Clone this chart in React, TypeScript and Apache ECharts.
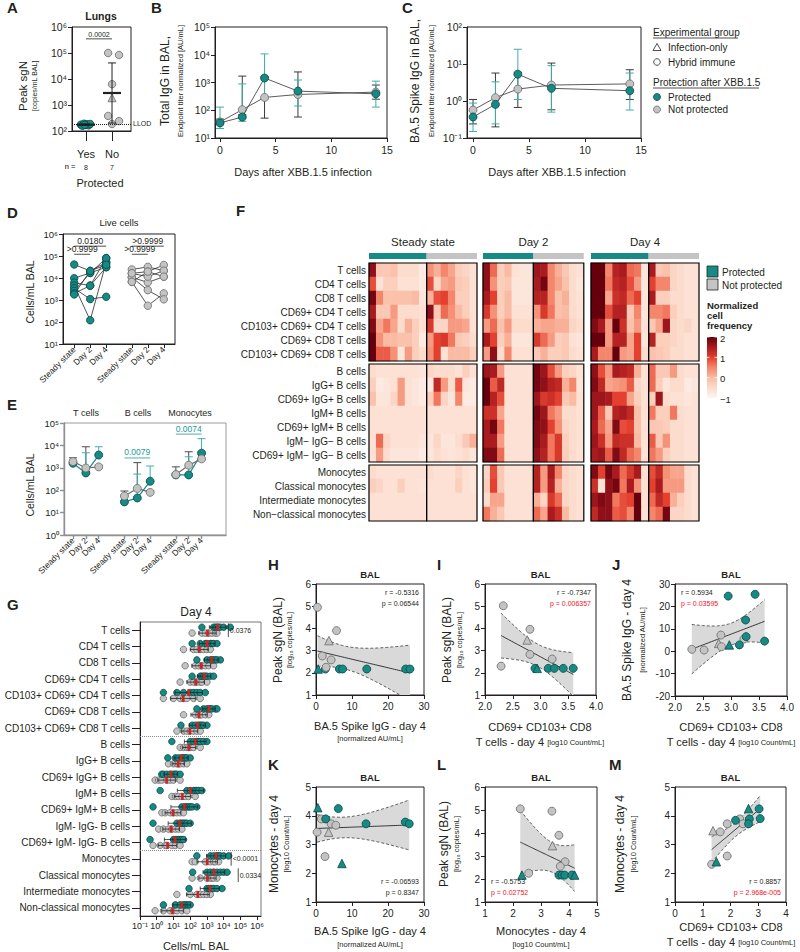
import React, { useEffect, useRef } from 'react';
import * as echarts from 'echarts';

// ---------- palette & typography ----------
const FONT = '"Liberation Sans", Arial, Helvetica, sans-serif';
const INK = '#231f20';
const TEAL = '#168a85';
const TEAL_EDGE = '#0b4744';
const TEAL_ERR = '#41aea8';
const TEAL_TEXT = '#1e9a94';
const GREY = '#c3c3c3';
const GREY_EDGE = '#6a6a6a';
const MEAN_RED = '#d42020';
const SIG_RED = '#f2121b';
const BAND = '#d9d9d9';
const HEAT = ['#fdf5f1', '#fcdccd', '#f9bba3', '#f4866b', '#e3402f', '#a91b1f', '#67000d'];

// ---------- A: peak sgN in lungs ----------
const aGroups = ['Yes', 'No'];
const aCounts = ['8', '7'];
const aProtected = [175, 160, 190, 170, 182, 165, 186, 172];
const aProtectedJitter = [0.8, 0.86, 0.92, 0.98, 1.04, 1.1, 1.16, 0.95];
const aNotProtected = [100000, 84000, 6300, 1900, 380, 240, 186];
const aNotProtectedJitter = [1.85, 2.27, 2.0, 2.0, 1.85, 2.27, 2.0];
const aNotProtectedShape = ['circle', 'circle', 'circle', 'triangle', 'circle', 'circle', 'circle'];
const aLLOD = 186;
const aPValue = '0.0002';

// ---------- B / C: BAL antibody kinetics ----------
const bcDays = [0, 2, 4, 7, 14];
const bProt = [35, 57, 1450, 490, 390];
const bProtLo = [22, 40, 250, 142, 130];
const bProtHi = [130, 890, 10700, 1230, 1120];
const bNot = [38, 105, 290, 370, 450];
const bNotLo = [30, 70, 52, 57, 250];
const bNotHi = [48, 1700, 1600, 2400, 810];
const cProt = [0.37, 0.81, 5.3, 2.2, 1.9];
const cProtLo = [0.15, 0.24, 1.1, 0.5, 0.57];
const cProtHi = [0.88, 3.3, 25, 9, 5.7];
const cNot = [0.57, 1.23, 2.1, 2.7, 2.9];
const cNotLo = [0.24, 0.2, 0.67, 0.58, 1.1];
const cNotHi = [1.1, 5.7, 6, 10.6, 7];

// ---------- D: live cells per animal (steady state, day 2, day 4) ----------
const dTimepoints = ['Steady state', 'Day 2', 'Day 4'];
const dProtected = [
  [41000, 21000, 52000],
  [9800, 17000, 80000],
  [6100, 4500, 31000],
  [4500, 120, 52000],
  [3400, 1100, 1400],
  [2600, 17000, 31000],
  [2000, 4500, 80000],
  [1800, 21000, 40000],
];
const dNotProtected = [
  [24500, 32000, 21500],
  [16300, 19500, 39000],
  [10700, 6300, 11500],
  [6700, 550, 2000],
  [10700, 2800, 1070],
  [16300, 11500, 21500],
  [6700, 19500, 11500],
];
const dPValues = ['0.0180', '>0.9999', '>0.9999', '>0.9999'];

// ---------- E: T / B / monocyte counts (mean + upper error) ----------
const eCellTypes = ['T cells', 'B cells', 'Monocytes'];
const eProt = [1600, 590, 3700, 30, 45, 250, 480, 480, 4500];
const eProtHi = [2000, 4700, 8700, 35, 525, 1200, 560, 3100, 20000];
const eNot = [1900, 980, 1100, 55, 120, 80, 500, 1300, 2500];
const eNotHi = [2800, 8700, 1300, 92, 1700, 95, 1100, 5200, 5000];
const ePValues = ['0.0079', '0.0074'];

// ---------- F: normalized cell frequency heatmap ----------
const hmRows = [
  'T cells', 'CD4 T cells', 'CD8 T cells', 'CD69+ CD4 T cells', 'CD103+ CD69+ CD4 T cells', 'CD69+ CD8 T cells', 'CD103+ CD69+ CD8 T cells',
  'B cells', 'IgG+ B cells', 'CD69+ IgG+ B cells', 'IgM+ B cells', 'CD69+ IgM+ B cells', 'IgM\u2212 IgG\u2212 B cells', 'CD69+ IgM\u2212 IgG\u2212 B cells',
  'Monocytes', 'Classical monocytes', 'Intermediate monocytes', 'Non\u2212classical monocytes',
];
const hmSteadyProt = [
  [1.7, -0.2, -0.2, -0.1, -0.5, -0.5, -0.5, -0.8],
  [0.9, -0.6, -0.3, -0.3, -0.6, -0.6, -0.6, -0.8],
  [1.9, 0.5, -0.1, -0.1, -0.1, -0.1, 0.0, -0.7],
  [1.5, -0.2, -0.2, 0.3, -0.5, -0.5, -0.5, -0.6],
  [1.8, 0.2, 0.6, 0.2, -0.5, 0.1, -0.3, -0.6],
  [2.0, 0.4, 0.0, 0.0, -0.1, -0.1, -0.3, -0.8],
  [2.0, 0.8, 0.8, 0.4, -0.7, 0.3, -0.3, -0.5],
  [-0.5, -0.6, -0.6, -0.6, -0.6, -0.6, -0.6, -0.7],
  [-0.3, -0.8, -0.7, -0.6, 0.3, -0.6, -0.7, -0.8],
  [-0.1, -0.7, -0.7, -0.4, 0.3, -0.6, -0.7, -0.8],
  [-0.6, -0.6, -0.6, -0.6, -0.6, -0.6, -0.6, -0.6],
  [-0.6, -0.6, -0.6, -0.6, -0.6, -0.6, -0.6, -0.6],
  [-0.6, 0.7, -0.4, -0.6, -0.6, -0.6, -0.6, -0.7],
  [-0.6, 0.3, -0.5, -0.7, -0.7, -0.7, -0.7, -0.8],
  [-0.5, -0.6, -0.6, -0.6, -0.6, -0.6, -0.6, -0.6],
  [-0.3, -0.4, -0.6, -0.6, -0.3, -0.6, -0.6, -0.7],
  [-0.6, -0.6, -0.6, -0.6, -0.6, -0.6, -0.6, -0.6],
  [-0.6, -0.6, -0.6, -0.6, -0.6, -0.6, -0.6, -0.6],
];
const hmSteadyNot = [
  [0.4, 0.1, 0.5, 0.2, -0.3, -0.4, -0.6],
  [0.9, -0.4, 0.2, 0.3, -0.2, -0.3, -0.6],
  [0.1, 0.9, 1.0, 0.5, -0.3, -0.3, -0.6],
  [1.7, -0.2, 0.7, 0.4, 0.0, -0.3, -0.6],
  [1.1, -0.4, -0.4, 0.3, 0.3, 0.2, -0.6],
  [0.3, 1.0, 1.1, 0.6, -0.2, -0.3, -0.5],
  [0.4, 1.0, -0.6, 0.0, 0.0, 0.0, -0.3],
  [-0.4, -0.5, -0.5, -0.5, -0.6, -0.3, -0.6],
  [-0.8, 1.3, 0.3, -0.5, 0.8, -0.7, -0.8],
  [-0.3, 0.6, -0.4, -0.7, 0.5, -0.8, -0.8],
  [-0.6, -0.6, -0.6, -0.6, -0.6, -0.6, -0.6],
  [-0.6, -0.6, -0.6, -0.6, -0.6, -0.6, -0.6],
  [-0.7, -0.4, -0.7, -0.7, -0.5, -0.2, 0.1],
  [-0.7, -0.5, -0.6, -0.7, -0.6, -0.5, -0.7],
  [-0.5, -0.6, -0.6, -0.6, -0.4, -0.6, -0.7],
  [-0.6, -0.6, -0.6, -0.6, -0.3, -0.6, -0.7],
  [-0.6, -0.6, -0.6, -0.6, -0.6, -0.6, -0.6],
  [-0.6, -0.6, -0.6, -0.6, -0.6, -0.6, -0.6],
];
const hmDay2Prot = [
  [1.7, 0.7, -0.3, 0.0, -0.6, -0.7, -0.7],
  [1.7, 0.4, -0.3, -0.2, -0.7, -0.7, -0.7],
  [1.5, 1.0, -0.3, 0.0, -0.7, -0.7, -0.7],
  [1.1, 0.4, -0.3, 0.0, -0.6, -0.6, -0.6],
  [0.3, 0.7, -0.1, 0.3, -0.5, -0.5, -0.5],
  [1.5, 1.0, -0.3, 0.1, -0.7, -0.7, -0.7],
  [0.3, 1.7, -0.5, 0.5, -0.6, -0.6, -0.6],
  [1.6, 1.5, 0.3, -0.6, -0.6, -0.6, -0.6],
  [2.0, 0.8, 1.3, -0.6, -0.6, -0.6, -0.6],
  [2.0, 1.4, 0.9, -0.6, -0.6, -0.6, -0.6],
  [1.2, 1.2, 0.2, -0.6, -0.6, -0.6, -0.6],
  [1.5, 1.9, 0.6, -0.6, -0.6, -0.6, -0.6],
  [1.5, 1.5, 0.3, -0.6, -0.6, -0.6, -0.6],
  [1.8, 1.8, 0.7, -0.6, -0.6, -0.6, -0.6],
  [-0.4, 0.9, -0.2, -0.6, -0.6, -0.6, -0.6],
  [-0.3, 1.0, -0.2, -0.6, -0.6, -0.6, -0.6],
  [-0.5, 0.2, 0.2, -0.6, -0.6, -0.6, -0.6],
  [0.6, 0.1, -0.2, -0.6, -0.6, -0.6, -0.6],
];
const hmDay2Not = [
  [1.6, 1.5, 0.5, 0.1, -0.2, -0.5, -0.6],
  [1.5, 1.9, 0.5, 0.2, -0.1, -0.5, -0.7],
  [1.4, 1.4, 0.5, -0.1, 0.1, -0.5, -0.6],
  [0.4, 1.1, 0.6, -0.1, 0.0, -0.5, -0.6],
  [0.1, 0.2, 0.2, 0.1, 0.1, -0.4, -0.5],
  [1.1, 0.7, 0.3, -0.3, -0.2, -0.6, -0.7],
  [-0.2, 0.1, -0.3, -0.3, -0.2, -0.5, -0.6],
  [1.9, 1.6, 0.9, 0.3, -0.3, -0.4, -0.6],
  [1.9, 1.7, 1.4, 1.3, 0.1, 0.5, -0.7],
  [1.6, 1.1, 1.2, 1.0, -0.2, 0.0, -0.6],
  [1.9, 1.6, 0.6, 0.3, -0.5, -0.5, -0.6],
  [1.8, 1.7, 1.0, 0.4, -0.4, -0.5, -0.6],
  [1.8, 1.5, 0.6, 1.1, -0.3, -0.5, -0.6],
  [1.7, 1.4, 0.6, 1.1, -0.3, -0.5, -0.6],
  [1.4, 0.3, 1.5, 0.5, -0.4, -0.5, -0.6],
  [1.4, 0.3, 1.4, 0.1, -0.4, -0.5, -0.6],
  [0.1, -0.4, 1.1, 0.7, -0.4, -0.5, -0.6],
  [0.7, 0.2, 1.5, 1.2, 0.0, -0.5, -0.6],
];
const hmDay4Prot = [
  [2.0, 2.0, 0.5, 1.4, 1.5, 0.7, 0.6, -0.7],
  [2.0, 2.0, 0.6, 1.3, 1.4, 0.9, 0.3, -0.7],
  [2.0, 2.0, 0.2, 1.2, 1.3, 0.7, 1.0, -0.7],
  [2.0, 2.0, 0.9, 1.4, 1.4, -0.2, 0.5, -0.7],
  [1.8, 1.5, 0.3, 2.0, 1.2, -0.1, 0.3, -0.6],
  [2.0, 2.0, 0.3, 1.4, 1.4, 0.2, 1.0, -0.7],
  [1.5, 0.5, 0.5, 2.0, 0.3, 0.2, 1.0, -0.5],
  [1.7, 0.9, 0.3, 1.5, 1.4, 1.3, 0.1, -0.6],
  [1.8, 1.3, 0.2, 0.3, 0.4, 0.8, -0.4, -0.6],
  [1.6, 1.6, 1.5, 1.0, 1.0, 0.2, -0.3, -0.6],
  [1.6, 0.8, -0.2, 1.4, 1.5, 1.3, -0.1, -0.6],
  [1.5, 0.7, 0.2, 1.8, 0.9, 1.0, -0.1, -0.6],
  [1.6, 1.2, 0.3, 1.3, 1.2, 1.2, 0.0, -0.6],
  [1.5, 1.6, 0.8, 1.8, 1.3, 0.7, 0.5, -0.6],
  [1.8, 1.0, 1.9, 1.5, 0.7, 1.1, 1.5, -0.6],
  [1.2, -0.6, 1.7, 1.9, 0.6, 1.5, 0.4, -0.6],
  [1.6, 1.8, 1.7, 0.6, 0.9, 1.0, 2.0, -0.6],
  [1.3, 1.7, 1.7, 0.8, 0.9, 0.5, 2.0, -0.6],
];
const hmDay4Not = [
  [1.5, -0.2, -0.1, -0.4, -0.5, -0.6, -0.6],
  [1.0, 0.5, 0.5, -0.4, -0.5, -0.6, -0.6],
  [1.5, -0.3, -0.3, -0.5, -0.5, -0.6, -0.6],
  [0.5, 0.5, 0.6, -0.3, -0.5, -0.6, -0.6],
  [-0.2, 0.2, 1.6, -0.4, -0.5, -0.4, -0.6],
  [1.4, -0.3, -0.3, -0.4, -0.5, -0.6, -0.6],
  [-0.1, -0.2, -0.3, -0.5, -0.5, -0.6, -0.6],
  [0.7, -0.2, -0.2, 0.3, -0.5, -0.6, -0.6],
  [0.7, -0.3, -0.7, -0.5, -0.5, -0.8, -0.7],
  [-0.3, 1.6, -0.5, -0.6, -0.6, -0.7, -0.6],
  [0.6, -0.3, -0.3, 0.6, -0.5, -0.6, -0.6],
  [-0.2, -0.2, -0.3, -0.5, -0.5, -0.6, -0.6],
  [0.8, -0.2, 0.4, -0.5, -0.5, -0.6, -0.6],
  [0.6, 0.3, -0.3, -0.5, -0.5, -0.6, -0.6],
  [0.9, 1.3, 0.4, 0.2, 0.2, -0.5, -0.6],
  [1.0, 1.5, 0.3, 0.3, 0.3, -0.5, -0.6],
  [0.7, 1.3, 1.0, 0.1, -0.3, -0.5, -0.6],
  [0.5, 0.7, 1.9, -0.4, -0.4, -0.5, -0.6],
];

// ---------- G: day 4 cell counts per population (cells/mL) ----------
const gRows = [
  'T cells', 'CD4 T cells', 'CD8 T cells', 'CD69+ CD4 T cells', 'CD103+ CD69+ CD4 T cells', 'CD69+ CD8 T cells', 'CD103+ CD69+ CD8 T cells',
  'B cells', 'IgG+ B cells', 'CD69+ IgG+ B cells', 'IgM+ B cells', 'CD69+ IgM+ B cells', 'IgM- IgG- B cells', 'CD69+ IgM- IgG- B cells',
  'Monocytes', 'Classical monocytes', 'Intermediate monocytes', 'Non-classical monocytes',
];
const gProt = [
  [500, 2500, 3200, 4000, 5000, 6300, 10000, 25000],
  [130, 400, 800, 1000, 1600, 2000, 2500, 4000],
  [250, 1000, 1600, 2000, 2500, 3200, 4000, 6300],
  [130, 400, 500, 630, 800, 1000, 1600, 2500],
  [2.5, 16, 40, 100, 160, 250, 400, 800],
  [250, 630, 1000, 1300, 1600, 2000, 3200, 4000],
  [28, 130, 200, 320, 400, 500, 630, 1000],
  [8, 100, 160, 250, 320, 400, 630, 1000],
  [4.6, 13, 20, 32, 40, 50, 63, 100],
  [2, 2.5, 4, 6.3, 10, 13, 16, 25],
  [1.6, 63, 100, 160, 200, 250, 320, 500],
  [0.6, 32, 50, 63, 80, 100, 130, 250],
  [0.6, 16, 25, 32, 40, 50, 63, 100],
  [0.4, 10, 13, 16, 20, 25, 32, 40],
  [250, 1600, 2500, 4000, 5000, 6300, 10000, 20000],
  [140, 1000, 1600, 2500, 4000, 6300, 10000, 16000],
  [85, 1000, 1300, 1600, 2000, 2500, 4000, 8000],
  [2.5, 13, 25, 40, 50, 63, 80, 100],
];
const gNot = [
  [130, 500, 800, 1300, 2000, 3200, 4000],
  [40, 160, 250, 400, 630, 1000, 1600],
  [50, 200, 320, 500, 800, 1300, 2500],
  [25, 100, 160, 250, 400, 500, 1000],
  [2.5, 10, 25, 40, 63, 160, 400],
  [40, 200, 320, 400, 500, 800, 1300],
  [16, 40, 63, 100, 160, 250, 400],
  [25, 40, 63, 80, 100, 160, 400],
  [5, 10, 16, 20, 25, 40, 63],
  [0.8, 1.3, 2, 4, 6.3, 10, 25],
  [8, 13, 20, 32, 50, 80, 200],
  [2, 3.2, 6.3, 10, 16, 25, 40],
  [1.3, 2.5, 5, 8, 13, 20, 32],
  [0.6, 1.6, 3.2, 4, 8, 13, 25],
  [130, 200, 800, 1600, 2500, 3200, 5000],
  [130, 400, 1000, 1600, 2000, 2500, 4000],
  [16, 100, 250, 400, 630, 1000, 1600],
  [0.8, 2.5, 6.3, 10, 16, 32, 63],
];
// [row, x position of bracket, label]
const gSignificance: [number, number, string][] = [
  [0, 19000, '0.0376'],
  [14, 28000, '<0.0001'],
  [15, 74000, '0.0334'],
];

// ---------- H–M: correlations in BAL ([x, y, protected, infection-only]) ----------
type Pt = [number, number, number, number];
const hPoints: Pt[] = [
  [2.6, 2.17, 1, 0], [0.6, 2.17, 1, 1], [6.5, 2.17, 1, 0], [7.4, 2.17, 1, 0], [14.1, 2.17, 1, 0], [24.9, 2.17, 1, 0], [26.1, 2.17, 1, 0],
  [0.4, 4.95, 0, 0], [5.7, 3.9, 0, 0], [3.6, 3.45, 0, 1], [1.75, 2.76, 0, 0], [4.2, 2.58, 0, 0], [2.8, 2.25, 0, 0],
];
const iPoints: Pt[] = [
  [2.33, 5.02, 0, 0], [2.29, 2.3, 0, 0], [2.81, 3.96, 0, 0], [2.76, 3.48, 0, 1], [2.81, 2.83, 0, 0], [3.21, 2.62, 0, 0],
  [2.9, 2.2, 1, 0], [2.94, 2.2, 1, 1], [3.14, 2.2, 1, 0], [3.25, 2.2, 1, 0], [3.41, 2.2, 1, 0], [3.59, 2.2, 1, 0],
];
const jPoints: Pt[] = [
  [2.3, 0.85, 0, 0], [2.52, 0.5, 0, 0], [2.82, 7.2, 0, 0], [2.78, 3.5, 0, 1], [2.83, 2.0, 0, 0], [3.23, 5.4, 0, 0],
  [2.95, 24.6, 1, 0], [2.97, 2.8, 1, 1], [3.15, 2.8, 1, 0], [3.26, 13.9, 1, 0], [3.27, 6.5, 1, 0], [3.43, 25.4, 1, 0], [3.6, 4.5, 1, 0],
];
const kPoints: Pt[] = [
  [0.3, 3.43, 0, 0], [1.5, 3.89, 0, 0], [4.2, 3.72, 0, 0], [5.5, 3.67, 0, 0], [3.5, 3.43, 0, 1], [2.5, 2.58, 0, 0],
  [0.5, 4.28, 1, 1], [2.7, 3.89, 1, 0], [6.2, 4.25, 1, 0], [7.2, 2.34, 1, 1], [13.9, 3.72, 1, 0], [24.8, 3.78, 1, 0], [25.9, 3.72, 1, 0],
];
const lPoints: Pt[] = [
  [2.26, 5.05, 0, 0], [3.39, 4.95, 0, 0], [3.64, 3.9, 0, 0], [3.41, 3.45, 0, 1], [3.86, 2.75, 0, 0], [3.69, 2.55, 0, 0], [2.56, 2.25, 0, 0],
  [2.32, 2.17, 1, 1], [3.64, 2.17, 1, 0], [3.75, 2.17, 1, 0], [3.85, 2.17, 1, 0], [4.1, 2.17, 1, 0], [4.2, 2.17, 1, 1],
];
const mPoints: Pt[] = [
  [1.32, 2.31, 0, 0], [1.88, 2.6, 0, 0], [1.37, 3.48, 0, 1], [1.63, 3.44, 0, 0], [1.88, 3.72, 0, 0], [2.33, 3.89, 0, 0], [2.45, 3.72, 0, 0],
  [1.49, 2.4, 1, 1], [2.18, 3.84, 1, 0], [2.68, 3.89, 1, 0], [2.65, 4.25, 1, 1], [3.03, 4.24, 1, 0], [3.07, 3.9, 1, 0], [2.65, 3.72, 1, 0],
];
const hStats = ['r = -0.5316', 'p = 0.06544'];
const iStats = ['r = -0.7347', 'p = 0.006357'];
const jStats = ['r = 0.5934', 'p = 0.03595'];
const kStats = ['r = -0.06593', 'p = 0.8347'];
const lStats = ['r = -0.5753', 'p = 0.02752'];
const mStats = ['r = 0.8857', 'p = 2.968e-005'];

// ---------- helpers ----------
const SUP: Record<string, string> = { '-': '\u207b', '0': '\u2070', '1': '\u00b9', '2': '\u00b2', '3': '\u00b3', '4': '\u2074', '5': '\u2075', '6': '\u2076', '7': '\u2077', '8': '\u2078', '9': '\u2079' };
const pow10 = (v: number) => '10' + String(Math.round(Math.log10(v))).replace(/./g, (c) => SUP[c] ?? c);
const decades = (min: number, max: number) => {
  const out: number[] = [];
  for (let e = Math.round(Math.log10(min)); e <= Math.round(Math.log10(max)) && 10 ** e <= max * 1.0001; e++) out.push(Number((10 ** e).toPrecision(6)));
  return out;
};
const mean = (a: number[]) => a.reduce((s, v) => s + v, 0) / a.length;
function geoSummary(vals: number[]): [number, number, number] {
  const logs = vals.map((v) => Math.log10(v));
  const m = mean(logs);
  const sd = Math.sqrt(logs.reduce((s, v) => s + (v - m) ** 2, 0) / (logs.length - 1));
  return [10 ** m, 10 ** (m - sd), 10 ** (m + sd)];
}
const T_CRIT: Record<number, number> = { 9: 2.262, 10: 2.228, 11: 2.201, 12: 2.179, 13: 2.16, 14: 2.145 };
function regression(pts: Pt[]) {
  const xs = pts.map((p) => p[0]);
  const ys = pts.map((p) => p[1]);
  const n = xs.length;
  const mx = mean(xs);
  const my = mean(ys);
  let sxx = 0;
  let sxy = 0;
  xs.forEach((x, i) => {
    sxx += (x - mx) ** 2;
    sxy += (x - mx) * (ys[i] - my);
  });
  const slope = sxy / sxx;
  const icpt = my - slope * mx;
  const sse = xs.reduce((s, x, i) => s + (ys[i] - icpt - slope * x) ** 2, 0);
  const se = Math.sqrt(sse / (n - 2));
  const t = T_CRIT[n - 2] ?? 2.2;
  const lo = Math.min(...xs);
  const hi = Math.max(...xs);
  const out: [number, number, number][] = [];
  for (let k = 0; k <= 48; k++) {
    const x = lo + ((hi - lo) * k) / 48;
    out.push([x, icpt + slope * x, t * se * Math.sqrt(1 / n + (x - mx) ** 2 / sxx)]);
  }
  return out;
}

const txtStyle = (s: string, size: number, color: string, align: string, va: string, weight = 'normal') => ({
  text: s, fill: color, fontSize: size, fontFamily: FONT, fontWeight: weight,
  align, verticalAlign: va, textAlign: align, textVerticalAlign: va,
});

function vErrorBars(color: string, cap: number, lowCap = true) {
  return (_p: any, api: any) => {
    const x = api.value(0);
    const a = api.coord([x, api.value(1)]);
    const b = api.coord([x, api.value(2)]);
    const style = { stroke: color, lineWidth: 1 };
    const kids: any[] = [
      { type: 'line', shape: { x1: a[0], y1: a[1], x2: b[0], y2: b[1] }, style },
      { type: 'line', shape: { x1: b[0] - cap, y1: b[1], x2: b[0] + cap, y2: b[1] }, style },
    ];
    if (lowCap) kids.push({ type: 'line', shape: { x1: a[0] - cap, y1: a[1], x2: a[0] + cap, y2: a[1] }, style });
    return { type: 'group', children: kids };
  };
}

function sigBars(labels: string[], color: string, size: number) {
  return (p: any, api: any) => {
    const a = api.coord([api.value(0), api.value(2)]);
    const b = api.coord([api.value(1), api.value(2)]);
    return {
      type: 'group',
      children: [
        { type: 'line', shape: { x1: a[0], y1: a[1], x2: b[0], y2: b[1] }, style: { stroke: color, lineWidth: 0.8 } },
        { type: 'text', x: (a[0] + b[0]) / 2, y: a[1] - 1, style: txtStyle(labels[p.dataIndex], size, color, 'center', 'bottom') },
      ],
    };
  };
}

function bandRenderer(fit: [number, number, number][]) {
  return (_p: any, api: any) => {
    const up = fit.map(([x, y, w]) => api.coord([x, y + w]));
    const dn = fit.map(([x, y, w]) => api.coord([x, y - w]));
    const mid = fit.map(([x, y]) => api.coord([x, y]));
    const dash = { stroke: '#3a3a3a', lineWidth: 0.8, lineDash: [3, 2], fill: 'none' };
    return {
      type: 'group',
      children: [
        { type: 'polygon', shape: { points: up.concat(dn.slice().reverse()) }, style: { fill: BAND, stroke: 'none' } },
        { type: 'polyline', shape: { points: up }, style: dash },
        { type: 'polyline', shape: { points: dn }, style: dash },
        { type: 'polyline', shape: { points: mid }, style: { stroke: '#222', lineWidth: 0.9, fill: 'none' } },
      ],
    };
  };
}

const dot = (prot: boolean) => ({ color: prot ? TEAL : GREY, borderColor: prot ? TEAL_EDGE : GREY_EDGE, borderWidth: 0.8, opacity: 1 });

function buildOption(): any {
  const grid: any[] = [];
  const xAxis: any[] = [];
  const yAxis: any[] = [];
  const series: any[] = [];
  const graphic: any[] = [];
  const heatSeries: number[] = [];

  const addGrid = (l: number, t: number, r: number, b: number, border: string | null = INK) => {
    grid.push({ left: l, top: t, width: r - l, height: b - t, show: !!border, borderColor: border || 'transparent', borderWidth: border ? 1 : 0, backgroundColor: 'transparent', containLabel: false });
    return grid.length - 1;
  };
  const addX = (o: any) => { xAxis.push(o); return xAxis.length - 1; };
  const addY = (o: any) => { yAxis.push(o); return yAxis.length - 1; };
  const text = (x: number, y: number, s: string, size: number, o: any = {}) => {
    graphic.push({ type: 'text', x, y, rotation: o.rot ?? 0, z: 50, silent: true, style: { ...txtStyle(s, size, o.color ?? INK, o.align ?? 'center', o.va ?? 'middle', o.weight ?? 'normal'), rich: o.rich } });
  };
  const axis = (gi: number, min: number, max: number, o: any) => ({
    gridIndex: gi,
    type: o.log ? 'log' : 'value',
    logBase: 10,
    min,
    max,
    inverse: !!o.inverse,
    axisLine: { show: true, onZero: false, lineStyle: { color: o.lineColor ?? INK, width: o.lw ?? 1 } },
    axisTick: { show: true, length: o.tickLen ?? 4, customValues: o.ticks, lineStyle: { color: o.lineColor ?? INK, width: o.lw ?? 1 } },
    axisLabel: {
      customValues: o.ticks, margin: o.margin ?? 5, rotate: o.rotate ?? 0,
      formatter: o.formatter ?? (o.log ? pow10 : undefined),
      fontFamily: FONT, fontSize: o.size ?? 10, color: INK, rich: o.rich,
    },
    splitLine: { show: false },
  });
  const yTitle = (x: number, y: number, main: string, mainSize: number, sub: string, subX: number, subSize: number) => {
    text(x, y, main, mainSize, { rot: Math.PI / 2 });
    text(subX, y, sub, subSize, { rot: Math.PI / 2 });
  };

  // ----- panel letters -----
  ([['A', 7, 7], ['B', 151, 7], ['C', 402, 7], ['D', 7, 212], ['E', 7, 404], ['F', 236, 210], ['G', 7, 604],
    ['H', 268, 564], ['I', 437, 564], ['J', 612, 564], ['K', 268, 764], ['L', 437, 764], ['M', 609, 764]] as [string, number, number][])
    .forEach(([s, x, y]) => text(x, y, s, 15, { weight: 'bold', align: 'left' }));

  // ================= A =================
  {
    const g = addGrid(72, 27, 131, 131);
    const xi = addX(axis(g, 0.46, 2.73, {
      ticks: [1, 2], size: 11, tickLen: 10, margin: 17,
      formatter: (v: number) => `${aGroups[Math.round(v) - 1]}\n{n|${aCounts[Math.round(v) - 1]}}`,
      rich: { n: { fontSize: 7, fontFamily: FONT, color: INK, padding: [5, 0, 0, 0] } },
    }));
    const yi = addY(axis(g, 100, 1e6, { log: true, ticks: decades(100, 1e6), size: 10.5 }));
    const stats = [[1, ...geoSummary(aProtected)], [2, ...geoSummary(aNotProtected)]];
    series.push({
      type: 'custom', xAxisIndex: xi, yAxisIndex: yi, silent: true, z: 4, data: stats, encode: { x: 0, y: [1, 2, 3] },
      renderItem: (_p: any, api: any) => {
        const x = api.value(0);
        const m = api.coord([x, api.value(1)]);
        const lo = api.coord([x, api.value(2)]);
        const hi = api.coord([x, api.value(3)]);
        const st = { stroke: INK, lineWidth: 1 };
        return {
          type: 'group', children: [
            { type: 'line', shape: { x1: m[0], y1: lo[1], x2: m[0], y2: hi[1] }, style: st },
            { type: 'line', shape: { x1: m[0] - 4, y1: lo[1], x2: m[0] + 4, y2: lo[1] }, style: st },
            { type: 'line', shape: { x1: m[0] - 4, y1: hi[1], x2: m[0] + 4, y2: hi[1] }, style: st },
            { type: 'line', shape: { x1: m[0] - 9, y1: m[1], x2: m[0] + 9, y2: m[1] }, style: { stroke: INK, lineWidth: 2.2 } },
          ],
        };
      },
    });
    series.push({
      type: 'scatter', xAxisIndex: xi, yAxisIndex: yi, silent: true, z: 3, symbolSize: 7.5,
      itemStyle: dot(true), data: aProtected.map((v, i) => [aProtectedJitter[i], v]),
      markLine: {
        silent: true, symbol: 'none', animation: false,
        lineStyle: { type: 'dotted', color: INK, width: 1 },
        label: { show: true, position: 'end', formatter: 'LLOD', fontSize: 7, fontFamily: FONT, color: INK, distance: 2 },
        data: [{ yAxis: aLLOD }],
      },
    });
    series.push({
      type: 'scatter', xAxisIndex: xi, yAxisIndex: yi, silent: true, z: 3, symbolSize: 7.5,
      itemStyle: dot(false),
      data: aNotProtected.map((v, i) => ({ value: [aNotProtectedJitter[i], v], symbol: aNotProtectedShape[i], symbolSize: aNotProtectedShape[i] === 'triangle' ? 8 : 7.5 })),
    });
    series.push({
      type: 'custom', xAxisIndex: xi, yAxisIndex: yi, silent: true, z: 5, data: [[1, 2, 3.5e5]], encode: { x: [0, 1], y: 2 },
      renderItem: sigBars([aPValue], INK, 7),
    });
    text(101, 16, 'Lungs', 10.5, { weight: 'bold' });
    yTitle(23, 86, 'Peak sgN', 11.5, '[copies/mL BAL]', 34, 7);
    text(70, 166, 'n =', 7.5, { color: '#000000' });
    text(100, 183, 'Protected', 11);
  }

  // ================= B & C =================
  const kinetics = (box: number[], xMin: number, yMin: number, yMax: number, prot: number[], protLo: number[], protHi: number[], not: number[], notLo: number[], notHi: number[]) => {
    const g = addGrid(box[0], box[1], box[2], box[3]);
    const xi = addX(axis(g, xMin, 15, { ticks: [0, 5, 10, 15], size: 10.5, margin: 6 }));
    const yi = addY(axis(g, yMin, yMax, { log: true, ticks: decades(yMin, yMax), size: 10.5 }));
    series.push({ type: 'custom', xAxisIndex: xi, yAxisIndex: yi, silent: true, z: 2, encode: { x: 0, y: [1, 2] }, data: bcDays.map((d, i) => [d, notLo[i], notHi[i]]), renderItem: vErrorBars('#3a3a3a', 4) });
    series.push({ type: 'custom', xAxisIndex: xi, yAxisIndex: yi, silent: true, z: 2, encode: { x: 0, y: [1, 2] }, data: bcDays.map((d, i) => [d, protLo[i], protHi[i]]), renderItem: vErrorBars(TEAL_ERR, 4) });
    series.push({ type: 'line', xAxisIndex: xi, yAxisIndex: yi, silent: true, z: 3, symbol: 'circle', symbolSize: 8, itemStyle: dot(false), lineStyle: { color: '#4a4a4a', width: 0.9 }, data: bcDays.map((d, i) => [d, not[i]]) });
    series.push({ type: 'line', xAxisIndex: xi, yAxisIndex: yi, silent: true, z: 4, symbol: 'circle', symbolSize: 8, itemStyle: dot(true), lineStyle: { color: '#4a4a4a', width: 0.9 }, data: bcDays.map((d, i) => [d, prot[i]]) });
  };
  kinetics([215, 27, 387, 138], -0.45, 10, 1e5, bProt, bProtLo, bProtHi, bNot, bNotLo, bNotHi);
  yTitle(165, 81, 'Total IgG in BAL,', 12, 'Endpoint titer normalized [AU/mL]', 180, 7.5);
  text(303, 172, 'Days after XBB.1.5 infection', 11);
  kinetics([467, 27, 641, 138], -0.54, 0.1, 100, cProt, cProtLo, cProtHi, cNot, cNotLo, cNotHi);
  yTitle(415, 81, 'BA.5 Spike IgG in BAL,', 12, 'Endpoint titer normalized [AU/mL]', 431, 7.5);
  text(557, 172, 'Days after XBB.1.5 infection', 11);

  // legend for experimental groups
  text(653, 32, 'Experimental group', 10, { align: 'left' });
  graphic.push({ type: 'line', shape: { x1: 653, y1: 38, x2: 738, y2: 38 }, style: { stroke: INK, lineWidth: 0.8 } });
  graphic.push({ type: 'polygon', shape: { points: [[657, 43.5], [661, 50.5], [653, 50.5]] }, style: { fill: 'none', stroke: INK, lineWidth: 0.8 } });
  text(668, 47, 'Infection-only', 10, { align: 'left' });
  graphic.push({ type: 'circle', shape: { cx: 657, cy: 62, r: 3.3 }, style: { fill: 'none', stroke: INK, lineWidth: 0.8 } });
  text(668, 62, 'Hybrid immune', 10, { align: 'left' });
  text(653, 82, 'Protection after XBB.1.5', 10, { align: 'left' });
  graphic.push({ type: 'line', shape: { x1: 653, y1: 88, x2: 759, y2: 88 }, style: { stroke: INK, lineWidth: 0.8 } });
  graphic.push({ type: 'circle', shape: { cx: 657, cy: 97, r: 3.5 }, style: { fill: TEAL, stroke: TEAL_EDGE, lineWidth: 0.8 } });
  text(668, 97, 'Protected', 10, { align: 'left' });
  graphic.push({ type: 'circle', shape: { cx: 657, cy: 109.5, r: 3.5 }, style: { fill: GREY, stroke: GREY_EDGE, lineWidth: 0.8 } });
  text(668, 109.5, 'Not protected', 10, { align: 'left' });

  // ================= D =================
  {
    const dPos = [1, 2, 3, 4.6, 5.6, 6.6];
    const g = addGrid(63, 234, 175, 344);
    const xi = addX(axis(g, 0.3, 7.3, {
      ticks: dPos, size: 8.5, rotate: 45, margin: 4,
      formatter: (v: number) => dTimepoints[v < 4 ? Math.round(v) - 1 : Math.round(v - 4.6)],
    }));
    const yi = addY(axis(g, 10, 1e6, { log: true, ticks: decades(10, 1e6), size: 9.5 }));
    const lineSet = (rows: number[][], off: number) => ({
      type: 'lines', coordinateSystem: 'cartesian2d', xAxisIndex: xi, yAxisIndex: yi, polyline: true, silent: true, z: 2,
      lineStyle: { color: '#2a2a2a', width: 0.8, opacity: 1 },
      data: rows.map((r) => ({ coords: r.map((v, k) => [dPos[k + off], v]) })),
    });
    series.push(lineSet(dProtected, 0));
    series.push(lineSet(dNotProtected, 3));
    series.push({ type: 'scatter', xAxisIndex: xi, yAxisIndex: yi, silent: true, z: 3, symbolSize: 7.5, itemStyle: dot(true), data: dProtected.flatMap((r) => r.map((v, k) => [dPos[k], v])) });
    series.push({ type: 'scatter', xAxisIndex: xi, yAxisIndex: yi, silent: true, z: 3, symbolSize: 7.5, itemStyle: dot(false), data: dNotProtected.flatMap((r) => r.map((v, k) => [dPos[k + 3], v])) });
    series.push({
      type: 'custom', xAxisIndex: xi, yAxisIndex: yi, silent: true, z: 5, encode: { x: [0, 1], y: 2 },
      data: [[1, 3, 2.8e5], [1, 2, 1.2e5], [4.6, 6.6, 2.8e5], [4.6, 5.6, 1.2e5]],
      renderItem: sigBars(dPValues, INK, 8.5),
    });
    text(119, 222, 'Live cells', 9.5);
    text(30, 292, 'Cells/mL BAL', 10.5, { rot: Math.PI / 2 });
  }

  // ================= E =================
  {
    const ePos = [1, 2, 3, 5, 6, 7, 9, 10, 11];
    const g = addGrid(64, 423, 226, 535, '#9a9a9a');
    const xi = addX(axis(g, 0.3, 12.9, {
      ticks: ePos, size: 8.5, rotate: 45, margin: 4, lineColor: '#8f8f8f', lw: 1.4,
      formatter: (v: number) => dTimepoints[(Math.round(v) - 1) % 4],
    }));
    const yi = addY(axis(g, 1, 1e5, { log: true, ticks: decades(1, 1e5), size: 9.5, lineColor: '#8f8f8f', lw: 1.4 }));
    const gapped = (vals: number[]) => {
      const out: any[] = [];
      vals.forEach((v, i) => {
        out.push([ePos[i], v]);
        if (i % 3 === 2 && i < vals.length - 1) out.push([ePos[i] + 1, '-']);
      });
      return out;
    };
    series.push({ type: 'custom', xAxisIndex: xi, yAxisIndex: yi, silent: true, z: 2, encode: { x: 0, y: [1, 2] }, data: eNot.map((v, i) => [ePos[i], v, eNotHi[i]]), renderItem: vErrorBars('#4a4a4a', 4, false) });
    series.push({ type: 'custom', xAxisIndex: xi, yAxisIndex: yi, silent: true, z: 2, encode: { x: 0, y: [1, 2] }, data: eProt.map((v, i) => [ePos[i], v, eProtHi[i]]), renderItem: vErrorBars(TEAL_ERR, 4, false) });
    series.push({ type: 'line', xAxisIndex: xi, yAxisIndex: yi, silent: true, z: 3, connectNulls: false, symbol: 'circle', symbolSize: 8, itemStyle: dot(true), lineStyle: { color: TEAL, width: 1.2 }, data: gapped(eProt) });
    series.push({ type: 'line', xAxisIndex: xi, yAxisIndex: yi, silent: true, z: 4, connectNulls: false, symbol: 'circle', symbolSize: 8, itemStyle: dot(false), lineStyle: { color: '#6a6a6a', width: 1.2 }, data: gapped(eNot) });
    series.push({
      type: 'custom', xAxisIndex: xi, yAxisIndex: yi, silent: true, z: 5, encode: { x: [0, 1], y: 2 },
      data: [[5, 7, 2750], [9, 11, 32000]], renderItem: sigBars(ePValues, TEAL_TEXT, 8.5),
    });
    eCellTypes.forEach((c, i) => text(86 + i * 52, 413, c, 9));
    text(30, 485, 'Cells/mL BAL', 10.5, { rot: Math.PI / 2 });
  }

  // ================= F =================
  {
    const CW = 7.2;
    const RH = 14;
    const blocks = [{ start: 0, n: 7, top: 263 }, { start: 7, n: 7, top: 364 }, { start: 14, n: 4, top: 465 }];
    const sets = [
      { title: 'Steady state', left: 369, mats: [hmSteadyProt, hmSteadyNot] },
      { title: 'Day 2', left: 483, mats: [hmDay2Prot, hmDay2Not] },
      { title: 'Day 4', left: 591, mats: [hmDay4Prot, hmDay4Not] },
    ];
    sets.forEach((set, si) => {
      let x0 = set.left;
      set.mats.forEach((mat, gi) => {
        const ncol = mat[0].length;
        blocks.forEach((blk) => {
          const g = addGrid(x0, blk.top, x0 + ncol * CW, blk.top + blk.n * RH, null);
          const xi = addX({ gridIndex: g, type: 'category', data: mat[0].map((_v, c) => String(c)), show: false });
          const yi = addY({
            gridIndex: g, type: 'category', inverse: true, data: hmRows.slice(blk.start, blk.start + blk.n),
            show: si === 0 && gi === 0, axisLine: { show: false }, axisTick: { show: false },
            axisLabel: { margin: 3, fontFamily: FONT, fontSize: 10, color: INK },
          });
          const data: number[][] = [];
          for (let r = 0; r < blk.n; r++) for (let c = 0; c < ncol; c++) data.push([c, r, mat[blk.start + r][c]]);
          heatSeries.push(series.length);
          series.push({ type: 'heatmap', xAxisIndex: xi, yAxisIndex: yi, data, silent: true, itemStyle: { borderWidth: 0 }, emphasis: { disabled: true } });
          graphic.push({ type: 'rect', z: 60, silent: true, shape: { x: x0, y: blk.top, width: ncol * CW, height: blk.n * RH }, style: { fill: 'none', stroke: '#000', lineWidth: 1.2 } });
        });
        graphic.push({ type: 'rect', silent: true, shape: { x: x0, y: 253, width: ncol * CW, height: 6 }, style: { fill: gi === 0 ? TEAL : '#c4c4c4' } });
        x0 += ncol * CW;
      });
      text((set.left + x0) / 2, 242, set.title, 11.5);
    });
    // legend
    graphic.push({ type: 'rect', shape: { x: 707, y: 266, width: 11, height: 11 }, style: { fill: TEAL, stroke: '#222', lineWidth: 0.8 } });
    text(722, 272, 'Protected', 10, { align: 'left' });
    graphic.push({ type: 'rect', shape: { x: 707, y: 279, width: 11, height: 11 }, style: { fill: '#c4c4c4', stroke: '#222', lineWidth: 0.8 } });
    text(722, 285, 'Not protected', 10, { align: 'left' });
    text(707, 305, 'Normalized', 9.5, { align: 'left', weight: 'bold' });
    text(707, 315, 'cell', 9.5, { align: 'left', weight: 'bold' });
    text(707, 325, 'frequency', 9.5, { align: 'left', weight: 'bold' });
    graphic.push({
      type: 'rect', shape: { x: 707, y: 337, width: 10, height: 61 },
      style: { fill: { type: 'linear', x: 0, y: 0, x2: 0, y2: 1, colorStops: HEAT.slice().reverse().map((c, i) => ({ offset: i / (HEAT.length - 1), color: c })) } },
    });
    ['2', '1', '0', '\u22121'].forEach((s, i) => {
      const y = 337 + i * (61 / 3);
      graphic.push({ type: 'line', z: 55, shape: { x1: 707, y1: y, x2: 709.5, y2: y }, style: { stroke: '#fff', lineWidth: 0.8 } });
      graphic.push({ type: 'line', z: 55, shape: { x1: 714.5, y1: y, x2: 717, y2: y }, style: { stroke: '#fff', lineWidth: 0.8 } });
      text(720, y + 1, s, 9.5, { align: 'left' });
    });
  }

  // ================= G =================
  {
    const g = addGrid(140, 622, 261, 916, '#777777');
    const xi = addX(axis(g, 0.1, 1.7e6, { log: true, ticks: decades(0.1, 1e6), size: 9, margin: 5 }));
    addY({
      gridIndex: g, type: 'category', inverse: true, data: gRows,
      axisLine: { show: true, lineStyle: { color: INK, width: 1 } },
      axisTick: { show: true, alignWithLabel: true, length: 8, lineStyle: { color: INK } },
      axisLabel: { margin: 10, fontFamily: FONT, fontSize: 10, color: INK },
      splitLine: { show: false },
    });
    const yi = addY({ gridIndex: g, type: 'value', min: 0, max: gRows.length, inverse: true, show: false });
    series.push({
      type: 'scatter', xAxisIndex: xi, yAxisIndex: yi, silent: true, z: 2, symbolSize: 6.5, itemStyle: dot(false),
      data: gNot.flatMap((r, i) => r.map((v) => [v, i + 0.68])),
      markLine: { silent: true, symbol: 'none', animation: false, label: { show: false }, lineStyle: { type: 'dotted', color: '#8a8a8a', width: 1 }, data: [{ yAxis: 7 }, { yAxis: 14 }] },
    });
    series.push({ type: 'scatter', xAxisIndex: xi, yAxisIndex: yi, silent: true, z: 3, symbolSize: 6.5, itemStyle: dot(true), data: gProt.flatMap((r, i) => r.map((v) => [v, i + 0.32])) });
    const stats: number[][] = [];
    gRows.forEach((_r, i) => {
      stats.push([...geoSummary(gProt[i]), i + 0.32]);
      stats.push([...geoSummary(gNot[i]), i + 0.68]);
    });
    series.push({
      type: 'custom', xAxisIndex: xi, yAxisIndex: yi, silent: true, z: 6, data: stats, encode: { x: [0, 1, 2], y: 3 },
      renderItem: (_p: any, api: any) => {
        const y = api.value(3);
        const m = api.coord([api.value(0), y]);
        const lo = api.coord([api.value(1), y]);
        const hi = api.coord([api.value(2), y]);
        const st = { stroke: '#222', lineWidth: 0.8 };
        return {
          type: 'group', children: [
            { type: 'line', shape: { x1: lo[0], y1: m[1], x2: hi[0], y2: m[1] }, style: st },
            { type: 'line', shape: { x1: lo[0], y1: m[1] - 2, x2: lo[0], y2: m[1] + 2 }, style: st },
            { type: 'line', shape: { x1: hi[0], y1: m[1] - 2, x2: hi[0], y2: m[1] + 2 }, style: st },
            { type: 'rect', shape: { x: m[0] - 1.3, y: m[1] - 3.5, width: 2.6, height: 7 }, style: { fill: MEAN_RED } },
          ],
        };
      },
    });
    series.push({
      type: 'custom', xAxisIndex: xi, yAxisIndex: yi, silent: true, z: 6, encode: { x: 0, y: [1, 2] },
      data: gSignificance.map(([row, x]) => [x, row + 0.08, row + 0.92]),
      renderItem: (p: any, api: any) => {
        const a = api.coord([api.value(0), api.value(1)]);
        const b = api.coord([api.value(0), api.value(2)]);
        return {
          type: 'group', children: [
            { type: 'line', shape: { x1: a[0], y1: a[1], x2: b[0], y2: b[1] }, style: { stroke: INK, lineWidth: 0.8 } },
            { type: 'text', x: a[0] + 1.5, y: (a[1] + b[1]) / 2, style: txtStyle(gSignificance[p.dataIndex][2], 7, INK, 'left', 'middle') },
          ],
        };
      },
    });
    text(196, 612, 'Day 4', 12);
    text(196, 946, 'Cells/mL BAL', 11);
  }

  // ================= H–M =================
  const scatterPanel = (box: number[], xr: number[], xt: number[], yr: number[], yt: number[], pts: Pt[], st: string[], corner: string, xfmt?: (v: number) => string) => {
    const [l, t, r, b] = box;
    const g = addGrid(l, t, r, b);
    const xi = addX(axis(g, xr[0], xr[1], { ticks: xt, size: 10, formatter: xfmt, margin: 6 }));
    const yi = addY(axis(g, yr[0], yr[1], { ticks: yt, size: 10 }));
    series.push({ type: 'custom', xAxisIndex: xi, yAxisIndex: yi, clip: true, silent: true, z: 1, data: [[pts[0][0], pts[0][1]]], encode: { x: 0, y: 1 }, renderItem: bandRenderer(regression(pts)) });
    series.push({
      type: 'scatter', xAxisIndex: xi, yAxisIndex: yi, silent: true, z: 3,
      data: pts.map((p) => ({ value: [p[0], p[1]], symbol: p[3] ? 'triangle' : 'circle', symbolSize: p[3] ? 8.5 : 8, itemStyle: dot(!!p[2]) })),
    });
    text((l + r) / 2, t - 10, 'BAL', 9.5, { weight: 'bold' });
    const sig = parseFloat(st[1].split('=')[1]) < 0.05;
    const left = corner.endsWith('l');
    const top = corner.startsWith('t');
    const sx = left ? l + 6 : r - 5;
    const sy = top ? t + 8 : b - 21;
    text(sx, sy, st[0], 7, { align: left ? 'left' : 'right' });
    text(sx, sy + 11, st[1], 7, { align: left ? 'left' : 'right', color: sig ? SIG_RED : INK });
  };
  const oneDec = (v: number) => v.toFixed(1);
  const cd8Title = (cx: number, y: number) => {
    text(cx, y, 'CD69+ CD103+ CD8', 11);
    text(cx, y + 15, '{a|T cells - day 4 }{b|[log10 Count/mL]}', 11, { rich: { a: { fontSize: 11, fontFamily: FONT, fill: INK }, b: { fontSize: 7.5, fontFamily: FONT, fill: INK } } });
  };

  scatterPanel([316, 584, 424, 695], [0, 30], [0, 10, 20, 30], [1, 6], [1, 2, 3, 4, 5, 6], hPoints, hStats, 'tr');
  yTitle(278, 640, 'Peak sgN (BAL)', 12, '[log\u2081\u2080 copies/mL]', 289, 7.5);
  text(370, 726, 'BA.5 Spike IgG - day 4', 11);
  text(370, 738, '[normalized AU/mL]', 7.5);

  scatterPanel([485, 584, 596, 695], [2, 4], [2, 2.5, 3, 3.5, 4], [1, 6], [1, 2, 3, 4, 5, 6], iPoints, iStats, 'tr', oneDec);
  yTitle(447, 640, 'Peak sgN (BAL)', 12, '[log\u2081\u2080 copies/mL]', 459, 7.5);
  cd8Title(540, 727);

  scatterPanel([675, 584, 787, 696], [2, 4], [2, 2.5, 3, 3.5, 4], [-20, 30], [-20, -10, 0, 10, 20, 30], jPoints, jStats, 'tl', oneDec);
  yTitle(627, 640, 'BA.5 Spike IgG - day 4', 12, '[normalized AU/mL]', 642, 7.5);
  cd8Title(731, 727);

  scatterPanel([316, 787, 424, 902], [0, 30], [0, 10, 20, 30], [1, 5], [1, 2, 3, 4, 5], kPoints, kStats, 'br');
  yTitle(274, 844, 'Monocytes - day 4', 12, '[log10 Count/mL]', 286, 7.5);
  text(370, 931, 'BA.5 Spike IgG - day 4', 11);
  text(370, 944, '[normalized AU/mL]', 7.5);

  scatterPanel([485, 787, 597, 902], [1, 5], [1, 2, 3, 4, 5], [1, 6], [1, 2, 3, 4, 5, 6], lPoints, lStats, 'bl');
  yTitle(444, 844, 'Peak sgN (BAL)', 12, '[log\u2081\u2080 copies/mL]', 456, 7.5);
  text(541, 931, 'Monocytes - day 4', 11);
  text(541, 944, '[log10 Count/mL]', 7.5);

  scatterPanel([675, 787, 786, 902], [0, 4], [0, 1, 2, 3, 4], [1, 5], [1, 2, 3, 4, 5], mPoints, mStats, 'br');
  yTitle(620, 844, 'Monocytes - day 4', 12, '[log10 Count/mL]', 633, 7.5);
  cd8Title(731, 927);

  return {
    animation: false,
    backgroundColor: '#ffffff',
    textStyle: { fontFamily: FONT },
    grid,
    xAxis,
    yAxis,
    series,
    visualMap: [{ type: 'continuous', show: false, min: -1, max: 2, dimension: 2, seriesIndex: heatSeries, inRange: { color: HEAT } }],
    graphic: { elements: graphic },
  };
}

export default function App() {
  const ref = useRef<HTMLDivElement>(null);
  useEffect(() => {
    if (!ref.current) return undefined;
    const chart = echarts.init(ref.current, undefined, { renderer: 'svg' });
    chart.setOption(buildOption());
    return () => chart.dispose();
  }, []);
  return <div ref={ref} style={{ position: 'absolute', left: 0, top: 0, width: 800, height: 952, background: '#fff' }} />;
}
